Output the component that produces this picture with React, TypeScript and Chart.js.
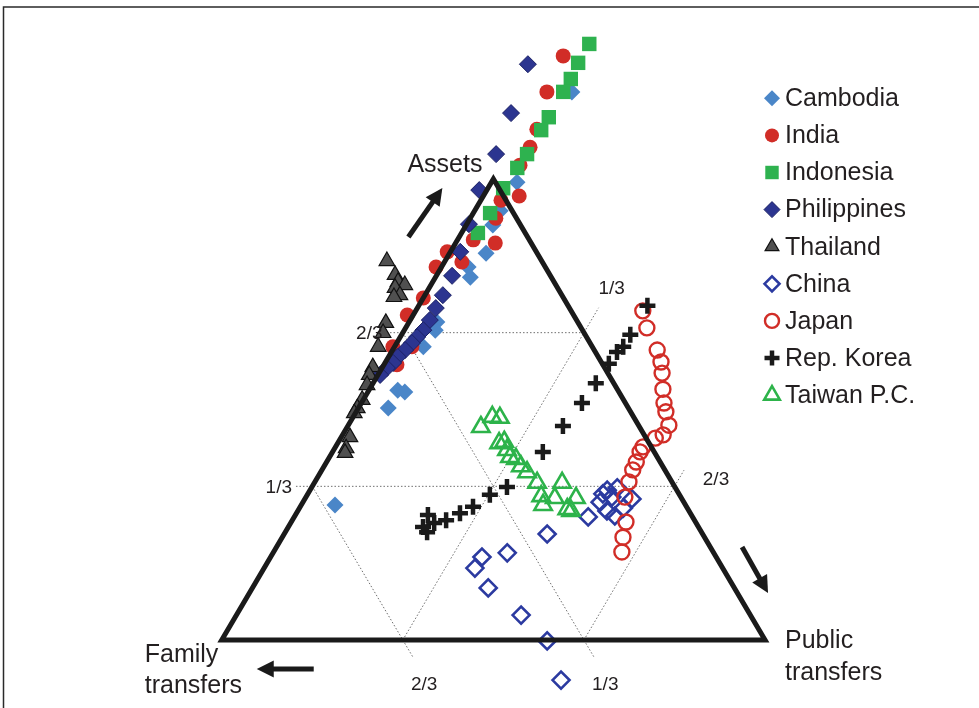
import React, { useEffect, useRef } from 'react';
import { Chart, registerables } from 'chart.js';

Chart.register(...registerables);

// Ternary shares in percent: assets (a) and public transfers (p); family = 100 - a - p
const countries = ['Cambodia', 'India', 'Indonesia', 'Philippines', 'Thailand', 'China', 'Japan', 'Rep. Korea', 'Taiwan P.C.'];

const cambodiaAssets = [118.9, 99.3, 93.1, 90.0, 83.9, 80.9, 78.7, 69.0, 67.2, 63.6, 54.2, 53.8, 50.3, 29.3];
const cambodiaPublic = [5.0, 4.7, 4.7, 4.9, 6.7, 4.9, 6.4, 5.1, 5.7, 5.3, 5.3, 6.8, 5.5, 6.2];

const indiaAssets = [126.7, 118.9, 110.8, 106.9, 103.0, 96.3, 95.4, 91.5, 86.8, 86.1, 84.2, 82.0, 80.9, 74.2, 70.5, 63.6, 63.6, 59.7];
const indiaPublic = [-0.5, 0.4, 2.6, 3.3, 3.4, 6.6, 3.7, 4.7, 2.9, 7.3, -0.6, 3.2, -1.0, 0.0, -1.1, -0.3, 3.2, 2.4];

const indonesiaAssets = [129.3, 125.2, 121.7, 118.9, 113.4, 110.6, 105.4, 102.4, 98.0, 92.6, 88.3];
const indonesiaPublic = [3.0, 3.0, 3.4, 3.4, 3.5, 3.5, 3.5, 3.2, 2.8, 3.1, 3.0];

const philippinesAssets = [124.9, 114.3, 105.4, 97.6, 90.2, 84.2, 79.0, 74.8, 72.0, 69.4, 67.2, 65.7, 64.4, 62.9, 61.4, 60.1, 59.0, 57.5];
const philippinesPublic = [-6.1, -3.9, -2.2, -1.4, 0.4, 1.8, 2.9, 3.3, 3.4, 3.6, 3.5, 3.1, 2.8, 2.3, 1.7, 1.5, 0.9, 0.4];

const thailandAssets = [82.2, 79.2, 77.7, 77.0, 76.4, 74.8, 74.4, 68.8, 66.6, 63.6, 59.2, 57.5, 55.3, 52.1, 50.3, 49.2, 44.0, 41.6, 40.6];
const thailandPublic = [-10.7, -7.7, -6.4, -4.8, -6.3, -4.6, -5.5, -4.2, -3.6, -3.0, -1.8, -1.6, -0.9, -0.2, -0.2, -0.2, 1.6, 2.1, 2.4];

const chinaAssets = [32.5, 33.0, 29.9, 31.0, 28.0, 26.9, 30.6, 28.6, 26.7, 23.0, 18.9, 18.0, 15.6, 11.3, 5.4, -0.2, -8.7, 31.7];
const chinaPublic = [54.7, 56.3, 54.7, 56.3, 56.9, 58.9, 60.2, 59.6, 54.1, 48.4, 43.1, 38.9, 38.8, 43.4, 52.4, 60.0, 66.8, 54.3];

const japanAssets = [71.4, 67.7, 62.9, 60.3, 57.9, 54.4, 51.4, 49.5, 46.6, 44.5, 43.8, 41.9, 40.8, 38.6, 36.9, 34.3, 31.0, 25.6, 22.3, 19.1];
const japanPublic = [41.8, 44.4, 48.7, 50.7, 52.1, 54.0, 55.7, 57.0, 59.0, 59.0, 57.9, 56.6, 56.6, 57.0, 57.2, 57.8, 58.7, 61.6, 62.7, 64.1];

const koreaAssets = [72.5, 66.2, 63.6, 62.5, 59.9, 55.7, 51.4, 46.4, 40.8, 33.2, 31.5, 28.9, 27.5, 26.0, 25.4, 27.1, 24.5, 23.4];
const koreaPublic = [42.1, 42.1, 42.1, 41.5, 41.3, 41.0, 40.6, 39.6, 38.7, 35.9, 33.6, 31.8, 30.1, 28.3, 26.4, 24.4, 24.8, 26.1];

const taiwanAssets = [46.2, 48.4, 48.2, 42.7, 43.0, 41.2, 39.7, 39.3, 37.7, 36.4, 34.1, 31.2, 29.3, 34.1, 30.8, 30.8, 28.4, 28.0];
const taiwanPublic = [24.6, 25.6, 27.1, 29.7, 30.5, 31.9, 33.2, 34.5, 36.2, 38.0, 41.0, 43.2, 44.5, 45.6, 45.9, 49.8, 49.4, 50.3];

const gridTicks = [1 / 3, 2 / 3];
const tickLabels = ['1/3', '2/3'];
const axisTitles = { assets: 'Assets', family: ['Family', 'transfers'], pub: ['Public', 'transfers'] };

// styles
const styles = [
  { pointStyle: 'rectRot', r: 8.5, fill: '#4a86c8', stroke: '#4a86c8', lw: 0, lr: 8 },
  { pointStyle: 'circle', r: 7.5, fill: '#d12d27', stroke: '#d12d27', lw: 0, lr: 7 },
  { pointStyle: 'rect', r: 10.2, fill: '#2eb24f', stroke: '#2eb24f', lw: 0, lr: 9.5 },
  { pointStyle: 'rectRot', r: 8.5, fill: '#2c3590', stroke: '#1c2266', lw: 1, lr: 8 },
  { pointStyle: 'triangle', r: 9, fill: '#505050', stroke: '#111111', lw: 1.2, lr: 8 },
  { pointStyle: 'rectRot', r: 8.5, fill: 'rgba(0,0,0,0)', stroke: '#2b3aa0', lw: 2.6, lr: 7.5 },
  { pointStyle: 'circle', r: 7.5, fill: 'rgba(0,0,0,0)', stroke: '#d12d27', lw: 2.4, lr: 7 },
  { pointStyle: 'cross', r: 8, fill: '#1a1a1a', stroke: '#1a1a1a', lw: 4.5, lr: 7.5 },
  { pointStyle: 'triangle', r: 10, fill: 'rgba(0,0,0,0)', stroke: '#2db34a', lw: 2.6, lr: 9 },
];

const seriesAssets = [cambodiaAssets, indiaAssets, indonesiaAssets, philippinesAssets, thailandAssets, chinaAssets, japanAssets, koreaAssets, taiwanAssets];
const seriesPublic = [cambodiaPublic, indiaPublic, indonesiaPublic, philippinesPublic, thailandPublic, chinaPublic, japanPublic, koreaPublic, taiwanPublic];

// ternary (fractions) -> cartesian units: L=(0,0), R=(1,0), A=(0.5,1)
const tern = (a: number, p: number) => ({ x: p + a / 2, y: a });

const FONT = '"Liberation Sans", Arial, Helvetica, sans-serif';
const TEXT = '#231f20';

function drawMarker(ctx: CanvasRenderingContext2D, st: any, x: number, y: number, r: number) {
  ctx.save();
  ctx.beginPath();
  const s = st.pointStyle;
  if (s === 'circle') {
    ctx.arc(x, y, r, 0, Math.PI * 2);
  } else if (s === 'rect') {
    const h = r * Math.SQRT1_2;
    ctx.rect(x - h, y - h, 2 * h, 2 * h);
  } else if (s === 'rectRot') {
    ctx.moveTo(x - r, y); ctx.lineTo(x, y - r); ctx.lineTo(x + r, y); ctx.lineTo(x, y + r); ctx.closePath();
  } else if (s === 'triangle') {
    for (let i = 0; i < 3; i++) {
      const ang = (i * 2 * Math.PI) / 3;
      const px = x + Math.sin(ang) * r, py = y - Math.cos(ang) * r;
      if (i === 0) ctx.moveTo(px, py); else ctx.lineTo(px, py);
    }
    ctx.closePath();
  } else if (s === 'cross') {
    ctx.moveTo(x - r, y); ctx.lineTo(x + r, y); ctx.moveTo(x, y - r); ctx.lineTo(x, y + r);
  }
  if (s !== 'cross') { ctx.fillStyle = st.fill; ctx.fill(); }
  if (st.lw > 0) { ctx.strokeStyle = st.stroke; ctx.lineWidth = st.lw; ctx.stroke(); }
  ctx.restore();
}

function arrow(ctx: CanvasRenderingContext2D, x1: number, y1: number, x2: number, y2: number) {
  const ang = Math.atan2(y2 - y1, x2 - x1);
  const hl = 17, hw = 8.5;
  const bx = x2 - Math.cos(ang) * hl, by = y2 - Math.sin(ang) * hl;
  ctx.save();
  ctx.strokeStyle = '#1a1a1a';
  ctx.fillStyle = '#1a1a1a';
  ctx.lineWidth = 5;
  ctx.beginPath();
  ctx.moveTo(x1, y1);
  ctx.lineTo(bx + Math.cos(ang) * 2, by + Math.sin(ang) * 2);
  ctx.stroke();
  ctx.beginPath();
  ctx.moveTo(x2, y2);
  ctx.lineTo(bx + Math.sin(ang) * hw, by - Math.cos(ang) * hw);
  ctx.lineTo(bx - Math.sin(ang) * hw, by + Math.cos(ang) * hw);
  ctx.closePath();
  ctx.fill();
  ctx.restore();
}

const decorPlugin = {
  id: 'decor',
  beforeDraw(chart: any) {
    const { ctx, width, height } = chart;
    ctx.save();
    ctx.fillStyle = '#ffffff';
    ctx.fillRect(0, 0, width, height);
    ctx.strokeStyle = '#2a2a2a';
    ctx.lineWidth = 1.5;
    ctx.beginPath();
    ctx.moveTo(width, 7);
    ctx.lineTo(3.5, 7);
    ctx.lineTo(3.5, height);
    ctx.stroke();
    ctx.restore();
  },
  afterDraw(chart: any) {
    const { ctx } = chart;
    const xs = chart.scales.x, ys = chart.scales.y;
    const pix = (a: number, p: number) => {
      const t = tern(a, p);
      return [xs.getPixelForValue(t.x), ys.getPixelForValue(t.y)];
    };
    const [Ax, Ay] = pix(1, 0);
    const [Lx, Ly] = pix(0, 0);
    const [Rx, Ry] = pix(0, 1);

    ctx.save();
    ctx.fillStyle = TEXT;
    // tick labels
    ctx.font = `19px ${FONT}`;
    ctx.textBaseline = 'middle';
    // assets grid labels (left end of horizontal lines)
    gridTicks.forEach((t, i) => {
      const [x, y] = pix(t, -0.03);
      ctx.textAlign = 'right';
      ctx.fillText(tickLabels[i], x - 4, y + 1);
    });
    // public grid labels (upper end)
    const pExt = [0.054, 0.035];
    const pOff = [[13, -19], [32, 10]];
    gridTicks.forEach((t, i) => {
      const [x, y] = pix(1 - t + pExt[i], t);
      ctx.textAlign = 'center';
      ctx.fillText(tickLabels[i], x + pOff[i][0], y + pOff[i][1]);
    });
    // family grid labels (bottom end): f = t
    const fExt = 0.038;
    gridTicks.forEach((t, i) => {
      const [x, y] = pix(-fExt, 1 - t + fExt);
      ctx.textAlign = 'center';
      ctx.fillText(tickLabels[i], x + 11, y + 27);
    });

    // axis titles
    ctx.font = `25px ${FONT}`;
    ctx.textBaseline = 'alphabetic';
    ctx.textAlign = 'left';
    ctx.fillText(axisTitles.assets, Ax - 86, Ay - 7);
    ctx.fillText(axisTitles.family[0], Lx - 77, Ly + 22);
    ctx.fillText(axisTitles.family[1], Lx - 77, Ly + 53);
    ctx.fillText(axisTitles.pub[0], Rx + 20, Ry + 8);
    ctx.fillText(axisTitles.pub[1], Rx + 20, Ry + 40);

    // arrows
    arrow(ctx, Ax - 85, Ay + 58, Ax - 51, Ay + 9);
    arrow(ctx, Lx + 92, Ly + 29, Lx + 35, Ly + 29);
    arrow(ctx, Rx - 23, Ry - 93, Rx + 3, Ry - 47);

    // legend
    const lx = 772, ly0 = 98.3, step = 37.1;
    ctx.font = `25px ${FONT}`;
    ctx.textBaseline = 'middle';
    ctx.textAlign = 'left';
    countries.forEach((name, i) => {
      const y = ly0 + i * step;
      drawMarker(ctx, styles[i], lx, y, styles[i].lr);
      ctx.fillStyle = TEXT;
      ctx.fillText(name, 785, y + 1);
    });
    ctx.restore();
  },
};

export default function App() {
  const ref = useRef<HTMLCanvasElement>(null);
  useEffect(() => {
    if (!ref.current) return;
    const datasets: any[] = [];

    // grid lines (dotted)
    const gridStyle = { showLine: true, pointRadius: 0, borderColor: '#6f6f6f', borderWidth: 1, borderDash: [1.5, 2], order: 100, fill: false };
    const pExt = [0.054, 0.035];
    const fExt = 0.038;
    gridTicks.forEach((t, i) => {
      datasets.push({ ...gridStyle, label: 'ga' + i, data: [tern(t, -0.03), tern(t, 1 - t)] });
      datasets.push({ ...gridStyle, label: 'gp' + i, data: [tern(0, t), tern(1 - t + pExt[i], t)] });
      datasets.push({ ...gridStyle, label: 'gf' + i, data: [tern(1 - t, 0), tern(-fExt, 1 - t + fExt)] });
    });

    countries.forEach((name, i) => {
      const st = styles[i];
      datasets.push({
        label: name,
        data: seriesAssets[i].map((a, k) => tern(a / 100, seriesPublic[i][k] / 100)),
        pointStyle: st.pointStyle,
        pointRadius: st.r,
        pointBackgroundColor: st.fill,
        pointBorderColor: st.stroke,
        pointBorderWidth: st.lw,
        backgroundColor: st.fill,
        borderColor: st.stroke,
        showLine: false,
        order: 50 - i,
      });
    });

    // triangle frame
    datasets.push({
      label: 'frame',
      data: [tern(0, 0), tern(0, 1), tern(1, 0), tern(0, 0), tern(0, 1)],
      showLine: true,
      pointRadius: 0,
      borderColor: '#1a1a1a',
      borderWidth: 5,
      borderJoinStyle: 'miter',
      borderCapStyle: 'butt',
      fill: false,
      order: 0,
    });

    const chart = new Chart(ref.current, {
      type: 'scatter',
      data: { datasets },
      options: {
        animation: false,
        responsive: false,
        events: [],
        layout: { padding: 0, autoPadding: false },
        clip: false as any,
        plugins: { legend: { display: false }, tooltip: { enabled: false } },
        scales: {
          x: { type: 'linear', display: false, min: -0.4081, max: 1.3938 },
          y: { type: 'linear', display: false, min: -0.1475, max: 1.3883 },
        },
      },
      plugins: [decorPlugin],
    });
    return () => chart.destroy();
  }, []);

  return (
    <div style={{ position: 'absolute', left: 0, top: 0, width: 979, height: 708, background: '#fff' }}>
      <canvas ref={ref} width={979} height={708} style={{ display: 'block' }} />
    </div>
  );
}
